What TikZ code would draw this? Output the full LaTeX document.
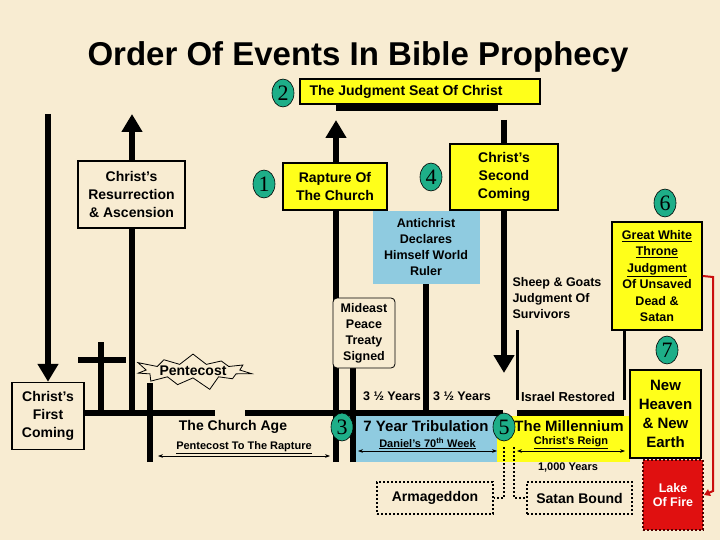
\documentclass[tikz,border=0pt]{standalone}
\usepackage{fontspec}
\setmainfont{Liberation Sans}
\newfontfamily\numfont{Liberation Serif}
\usetikzlibrary{shapes.symbols,shapes.geometric,arrows.meta}
\definecolor{parch}{HTML}{F8ECD2}
\definecolor{yel}{HTML}{FFFF1A}
\definecolor{tri}{HTML}{8FCBE0}
\definecolor{teal}{HTML}{1EAE88}
\definecolor{fire}{HTML}{E01010}
\tikzset{
 ev/.style={draw=black,line width=1.6pt,fill=yel,align=center,font=\bfseries\fontsize{14}{18}\selectfont,inner sep=0pt},
 wbox/.style={draw=black,line width=1.4pt,align=center,font=\bfseries\fontsize{14}{18}\selectfont,inner sep=0pt},
 num/.style={ellipse,draw=black,line width=0.6pt,fill=teal,minimum width=22pt,minimum height=28pt,inner sep=0pt,font=\numfont\fontsize{22}{22}\selectfont},
 bar/.style={line width=6pt},
 lab/.style={font=\bfseries\fontsize{12.5}{14}\selectfont,align=center},
 small/.style={font=\bfseries\fontsize{11}{12}\selectfont},
 up/.style={-{Triangle[length=18pt,width=20pt]},line width=6pt},
 span/.style={{Stealth[length=5pt]}-{Stealth[length=5pt]},line width=1pt},
 dot/.style={dotted,line width=2pt},
}
\begin{document}
\begin{tikzpicture}[x=1pt,y=-1pt]
\fill[parch] (0,0) rectangle (720,540);
\useasboundingbox (0,0) rectangle (720,540);
\node[font=\bfseries\fontsize{33}{35}\selectfont] (title) at (358,57) {Order Of Events In Bible Prophecy};
% bands
\fill[tri] (356,416) rectangle (497,462);
\fill[yel] (497,416) rectangle (630,462);
% judgment seat
\draw[bar] (336,108) -- (498,108);
\node[ev,minimum width=240pt,minimum height=25pt] (jsc) at (420,91.5) {\hspace*{-2em}The Judgment Seat Of Christ};
\node[num] (n2) at (283,93) {2};
% left first coming
\node[wbox,minimum width=72pt,minimum height=67pt,fill=parch] (first) at (48,416) {Christ's\\First\\Coming};
\coordinate (ftop) at (48,114);
\draw[up] (ftop) -- (first.north);
% ground line
\coordinate (g1) at (215,413);
\coordinate (g2) at (245,413); \coordinate (g3) at (503,413);
\coordinate (g4) at (517,413); \coordinate (g5) at (624,413);
\draw[bar] (first.east |- g1) -- (g1);
\draw[bar] (g2) -- (g3);
\draw[bar] (g4) -- (g5);
% resurrection
\coordinate (rb) at (132,413); \coordinate (rt) at (132,114);
\draw[up] (rb) -- (rt);
\node[wbox,fill=parch,minimum width=107pt,minimum height=67pt] (res) at (131.5,194.5) {Christ's\\Resurrection\\\& Ascension};
% cross
\coordinate (c1) at (101,342); \coordinate (c2) at (101,413);
\coordinate (c3) at (78,360); \coordinate (c4) at (126,360);
\draw[bar] (c1) -- (c2); \draw[bar] (c3) -- (c4);
% pentecost
\coordinate (pb) at (150,462); \coordinate (pt) at (150,383);
\draw[bar] (pb) -- (pt);
\node[starburst,starburst points=11,starburst point height=14pt,draw=black,line width=0.8pt,fill=parch,minimum width=100pt,minimum height=36pt,inner sep=0pt,font=\bfseries\fontsize{14}{16}\selectfont] (pent) at (193,371) {Pentecost};
\node[lab,font=\bfseries\fontsize{14}{16}\selectfont] (ca) at (233,427) {The Church Age};
\coordinate (pa1) at (158,456); \coordinate (pa2) at (330,456);
\draw[span] (pa1) -- node[small,above=-2pt] {\underline{Pentecost To The Rapture}} (pa2);
% rapture
\coordinate (rpb) at (336,462); \coordinate (rpt) at (336,120);
\draw[up] (rpb) -- (rpt);
\node[ev,minimum width=104pt,minimum height=47pt] (rap) at (335,186.5) {Rapture Of\\The Church};
\node[num] (n1) at (264,184) {1};
% mideast
\coordinate (mb) at (353,462); \coordinate (mt) at (353,360);
\draw[bar] (mb) -- (mt);
\node[draw=black,line width=0.8pt,fill=parch,rounded corners=4pt,minimum width=62pt,minimum height=70pt,align=center,inner sep=0pt,font=\bfseries\fontsize{12.5}{16}\selectfont] (mid) at (364,333) {Mideast\\Peace\\Treaty\\Signed};
\node[num] (n3) at (342,427) {3};
% antichrist
\coordinate (ab) at (426,413); \coordinate (at2) at (426,284);
\draw[bar] (ab) -- (at2);
\node[fill=tri,minimum width=107pt,minimum height=73pt,align=center,inner sep=0pt,font=\bfseries\fontsize{12.5}{16}\selectfont] (anti) at (426,247.5) {Antichrist\\Declares\\Himself World\\Ruler};
% second coming
\coordinate (st) at (504,120); \coordinate (sb) at (504,373);
\draw[up] (st) -- (sb);
\node[ev,minimum width=108pt,minimum height=66pt] (sec) at (504,177) {Christ's\\Second\\Coming};
\node[num] (n4) at (431,177) {4};
\node[num] (n5) at (504,427) {5};
\node[lab,anchor=north west,align=left,font=\bfseries\fontsize{12.5}{16}\selectfont] (sheep) at (509,274) {Sheep \& Goats\\Judgment Of\\Survivors};
\coordinate (ib) at (517,400); \coordinate (it) at (517,330);
\draw[line width=3pt] (ib) -- (it);
\node[lab] (y1) at (392,396) {3 ½ Years};
\node[lab] (y2) at (462,396) {3 ½ Years};
\node[lab,font=\bfseries\fontsize{13}{14}\selectfont] (isr) at (568,397) {Israel Restored};
\node[lab,font=\bfseries\fontsize{15}{16}\selectfont] (tribt) at (426,426) {7 Year Tribulation};
\node[lab,font=\bfseries\fontsize{15}{16}\selectfont] (mill) at (569,426) {The Millennium};
\coordinate (d1) at (358,451); \coordinate (d2) at (497,451);
\draw[span] (d1) -- node[small,above=-2pt] {\underline{Daniel's 70\textsuperscript{th} Week}} (d2);
\coordinate (m1) at (517,451); \coordinate (m2) at (625,451);
\draw[span] (m1) -- node[small,above=-2pt] {\underline{Christ's Reign}} (m2);
\node[small] (ky) at (568,468) {1,000 Years};
% dotted
\node[draw=black,dot,minimum width=116pt,minimum height=32pt,inner sep=0pt,font=\bfseries\fontsize{14}{15}\selectfont] (arm) at (435,498) {Armageddon};
\node[draw=black,dot,minimum width=105pt,minimum height=32pt,inner sep=0pt,font=\bfseries\fontsize{14}{15}\selectfont] (sat) at (579.5,498) {Satan Bound};
\draw[dot] (n5.south) ++(0,6) |- (arm.east);
\draw[dot] ([xshift=6pt]n5.south) ++(4,6) |- (sat.west);
% great white
\node[ev,minimum width=90pt,minimum height=108pt,font=\bfseries\fontsize{12.5}{16.5}\selectfont] (gw) at (657,276) {\underline{Great White}\\\underline{Throne}\\\underline{Judgment}\\Of Unsaved\\Dead \&\\Satan};
\node[num] (n6) at (665,203) {6};
\coordinate (gwl) at (624,400);
\draw[line width=3pt] ([xshift=-33pt]gw.south) -- (gwl);
\node[num] (n7) at (667,350) {7};
\node[ev,minimum width=71pt,minimum height=88pt,font=\bfseries\fontsize{15}{19}\selectfont] (nh) at (665.5,414) {New\\Heaven\\\& New\\Earth};
\node[fill=fire,draw=black!70!red,dotted,line width=2pt,minimum width=60pt,minimum height=70pt,text=white,align=center,inner sep=0pt,font=\bfseries\fontsize{12.5}{14}\selectfont] (lake) at (673,495) {Lake\\Of Fire};
\coordinate (rc1) at (713,277); \coordinate (rc2) at (713,491);
\draw[fire!90!black,line width=2pt,-{Triangle[length=6pt,width=7pt]}] (gw.east) -- (rc1) -- (rc2) -- (lake.east);
\end{tikzpicture}
\end{document}
